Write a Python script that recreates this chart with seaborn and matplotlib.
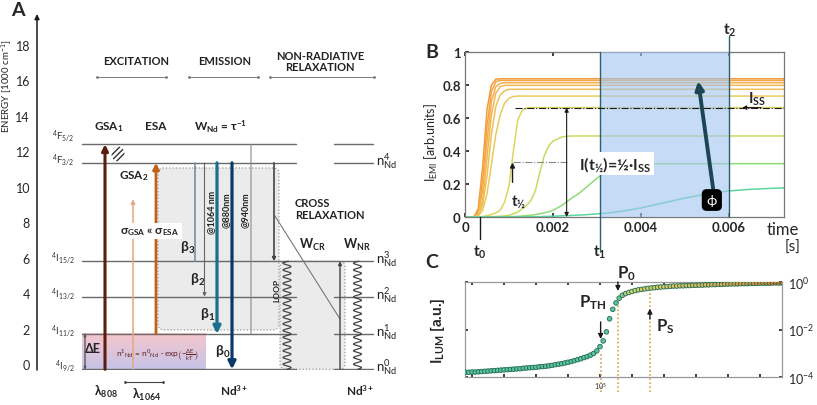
import numpy as np
import pandas as pd
import seaborn as sns
import matplotlib.pyplot as plt
from matplotlib.patches import FancyBboxPatch, Ellipse
from matplotlib.colors import LinearSegmentedColormap

sns.set_theme(style="white")
plt.rcParams['font.family'] = ['Lato', 'DejaVu Sans']
plt.rcParams['mathtext.fontset'] = 'custom'
plt.rcParams['mathtext.rm'] = 'Lato'
plt.rcParams['mathtext.it'] = 'Lato:italic'
plt.rcParams['mathtext.bf'] = 'Lato:bold'
plt.rcParams['mathtext.default'] = 'regular'

# ---------------- data ----------------
# panel A: Nd3+ energy levels [1000 cm-1]
level_names = ['$^4$I$_{9/2}$', '$^4$I$_{11/2}$', '$^4$I$_{13/2}$',
               '$^4$I$_{15/2}$', '$^4$F$_{3/2}$', '$^4$F$_{5/2}$']
level_energy = [-0.3, 1.7, 3.8, 5.8, 11.35, 12.4]
pop_names = ['n$^{0}_{Nd}$', 'n$^{1}_{Nd}$', 'n$^{2}_{Nd}$', 'n$^{3}_{Nd}$', 'n$^{4}_{Nd}$']
energy_ticks = [0, 2, 4, 6, 8, 10, 12, 14, 16, 18]

# panel B: emission rise curves, time in ms
t_ms = [0, 0.2, 0.3, 0.4, 0.5, 0.6, 0.7, 0.8, 0.9, 1.0, 1.1, 1.2, 1.3, 1.4, 1.5, 1.6, 1.7,
        1.8, 1.9, 2.0, 2.2, 2.4, 2.6, 2.8, 3.0, 3.3, 3.6, 4.0, 4.5, 5.0, 5.5, 6.0, 6.5, 7.0, 7.25]
c1 = [0, 0, 0.05, 0.30, 0.65, 0.80, 0.835] + [0.838] * 28
c2 = [0, 0, 0.03, 0.22, 0.55, 0.76, 0.82] + [0.828] * 28
c3 = [0, 0, 0.02, 0.16, 0.46, 0.70, 0.79, 0.81] + [0.814] * 27
c4 = [0, 0, 0.01, 0.10, 0.36, 0.62, 0.75, 0.79] + [0.798] * 27
c5 = [0, 0, 0.01, 0.07, 0.25, 0.50, 0.67, 0.74, 0.765] + [0.774] * 26
c6 = [0, 0, 0.005, 0.04, 0.14, 0.32, 0.50, 0.62, 0.69, 0.72, 0.73] + [0.733] * 24
c7 = [0, 0, 0.001, 0.003, 0.008, 0.015, 0.025, 0.04, 0.09, 0.19, 0.40, 0.59, 0.645, 0.66] + [0.663] * 21
c8 = [0, 0, 0, 0, 0.001, 0.002, 0.003, 0.005, 0.007, 0.01, 0.02, 0.03, 0.05, 0.07, 0.10,
      0.16, 0.27, 0.37, 0.43, 0.46, 0.485] + [0.491] * 14
c9 = [0, 0, 0, 0, 0, 0, 0, 0, 0.001, 0.002, 0.003, 0.004, 0.006, 0.008, 0.011, 0.015, 0.02,
      0.025, 0.032, 0.04, 0.07, 0.11, 0.145, 0.19, 0.235, 0.29, 0.315, 0.322] + [0.323] * 7
c10 = [0, 0, 0, 0, 0, 0, 0, 0, 0, 0, 0, 0, 0, 0.001, 0.001, 0.002, 0.002, 0.003, 0.004, 0.005,
       0.007, 0.009, 0.012, 0.015, 0.019, 0.026, 0.036, 0.055, 0.085, 0.115, 0.14, 0.158,
       0.168, 0.174, 0.176]
curves = [c1, c2, c3, c4, c5, c6, c7, c8, c9, c10]
curve_colors = ['#f29a3c', '#f3a443', '#f4ae4a', '#f2b652', '#efbf55',
                '#e9cb5a', '#dcd65e', '#c5dc62', '#8edb78', '#5ad6a0']
t_0, t_1, t_2 = 0.00034, 0.00307, 0.0060
I_ss = 0.663

# panel C: luminescence vs power (log10 values)
logP = [0.8, 0.9, 1.0, 1.1, 1.2, 1.3, 1.4, 1.5, 1.6, 1.7, 1.8, 1.9, 2.0, 2.1, 2.2, 2.3, 2.4,
        2.5, 2.6, 2.7, 2.8, 2.9, 3.0, 3.1, 3.2, 3.3, 3.4, 3.5, 3.6, 3.7, 3.8, 3.9, 4.0, 4.1,
        4.2, 4.3, 4.4, 4.5, 4.6, 4.7, 4.8, 4.9, 5.0, 5.1, 5.2, 5.3, 5.4, 5.5, 5.6, 5.7, 5.8,
        5.9, 6.0, 6.1, 6.2, 6.3, 6.4, 6.5, 6.6, 6.7, 6.8, 6.9, 7.0, 7.1, 7.2, 7.3, 7.4, 7.5,
        7.6, 7.7, 7.8, 7.9, 8.0, 8.1, 8.2, 8.3, 8.4, 8.5, 8.6, 8.7, 8.8, 8.9, 9.0, 9.1, 9.2,
        9.3, 9.4, 9.5, 9.6, 9.7, 9.8, 9.9, 10.0, 10.1, 10.2, 10.3, 10.4, 10.5, 10.6, 10.7]
logI = [-3.80, -3.80, -3.79, -3.79, -3.78, -3.77, -3.76, -3.75, -3.74, -3.73, -3.72, -3.71,
        -3.70, -3.69, -3.68, -3.67, -3.66, -3.65, -3.63, -3.62, -3.61, -3.60, -3.59, -3.57,
        -3.56, -3.55, -3.53, -3.51, -3.48, -3.46, -3.44, -3.41, -3.38, -3.35, -3.31, -3.27,
        -3.23, -3.18, -3.14, -3.08, -3.01, -2.90, -2.72, -2.48, -2.10, -1.55, -1.15, -0.88,
        -0.68, -0.56, -0.49, -0.44, -0.40, -0.36, -0.33, -0.31, -0.29, -0.27, -0.25, -0.24,
        -0.22, -0.21, -0.20, -0.19, -0.18, -0.17, -0.17, -0.16, -0.16, -0.15, -0.15, -0.14,
        -0.14, -0.13, -0.13, -0.12, -0.12, -0.11, -0.11, -0.10, -0.10, -0.09, -0.09, -0.08,
        -0.08, -0.08, -0.07, -0.07, -0.07, -0.06, -0.06, -0.06, -0.05, -0.05, -0.05, -0.05,
        -0.04, -0.04, -0.04, -0.04]

fig = plt.figure(figsize=(8.17, 4.06), dpi=100)

# ================= panel A =================
axA = fig.add_axes([37/817, 35/406, 383/817, 356/406])
for s in axA.spines.values():
    s.set_visible(False)
LC = '#6a6a6a'

# thermal population gradient
top_c = np.array([246, 198, 204]) / 255
bot_c = np.array([198, 196, 232]) / 255
w = np.linspace(0, 1, 40)[:, None]
grad = (top_c * (1 - w) + bot_c * w)[:, None, :]
axA.imshow(grad, extent=(82, 206, -0.3, 1.7), aspect='auto', zorder=1)

# grey boxes
box_kw = dict(boxstyle='round,pad=0,rounding_size=6', mutation_aspect=1/17.72,
              fc='#ebebeb', ec='#999999', ls=':', lw=0.9, zorder=1)
axA.add_patch(FancyBboxPatch((158, 1.92), 121, 9.14, **box_kw))
axA.add_patch(FancyBboxPatch((280, -0.3), 65, 6.1, **box_kw))

# energy levels
for i, (name, e) in enumerate(zip(level_names, level_energy)):
    if i == 3:
        axA.plot([82, 373], [e, e], color=LC, lw=1, zorder=2)
    else:
        axA.plot([82, 296], [e, e], color=LC, lw=1, zorder=2)
        axA.plot([334, 373], [e, e], color=LC, lw=1, zorder=2)
    dy = 0.5 if i == 5 else 0.2
    axA.text(75, e + dy, name, ha='right', va='center', fontsize=7, color='#333')
for e, name in zip(level_energy[:5], pop_names):
    axA.text(376, e + 0.15, name, ha='left', va='center', fontsize=9.5, color='#222')

def varrow(x, e0, e1, color, lw, head=True, ms=9):
    style = '-|>' if head else '-'
    axA.annotate('', xy=(x, e1), xytext=(x, e0),
                 arrowprops=dict(arrowstyle=style, color=color, lw=lw,
                                 mutation_scale=ms, shrinkA=0, shrinkB=0), zorder=4)

varrow(105, -0.3, 12.4, '#5a1e0e', 2.2)
varrow(133, -0.3, 9.3, '#e3a97c', 1.1, ms=6)
varrow(156, 1.7, 11.35, '#c0621a', 2.0)
varrow(195, 11.35, 5.8, '#7590a8', 1.2, head=False)
varrow(204.5, 11.35, 3.8, '#666666', 0.8, ms=5)
varrow(217, 11.35, 1.7, '#1b6e8e', 2.3, ms=11)
varrow(232, 11.35, -0.3, '#0a3a6a', 2.3, ms=11)
varrow(251, 12.4, 1.7, '#8a8a8a', 0.8, head=False)
varrow(274, 11.35, 5.8, '#444444', 1.2, ms=5)
varrow(340, -0.3, 5.8, '#444444', 1.0, ms=5)
varrow(85, -0.3, 1.7, '#555555', 0.6, ms=4)
varrow(85, 1.7, -0.3, '#555555', 0.6, ms=4)
axA.plot([275, 340], [8.35, 2.54], color='#777', lw=0.8, zorder=3)

# hatched absorption mark
axA.add_patch(Ellipse((118, 11.85), 13, 0.85, angle=0, fill=False, hatch='//////',
                      ec='#333', lw=0, zorder=3))

# non-radiative wavy lines
yy = np.linspace(-0.3, 5.8, 500)
for xc in (287, 357.5):
    axA.plot(xc + 4 * np.sin(2 * np.pi * (yy + 0.3) / 0.38), yy, color='#444', lw=0.9, zorder=3)

# headers
for label, xc, x0, x1 in [('EXCITATION', 136, 97, 166), ('EMISSION', 225, 189, 258),
                          ('NON-RADIATIVE\nRELAXATION', 320, 270, 374)]:
    axA.text(xc, 17.1, label, ha='center', va='center', fontsize=8, fontweight='bold',
             color='#222', linespacing=1.1)
    axA.plot([x0, x1], [16.2, 16.2], color='#777', lw=0.7, marker='.', markersize=2)

bold = dict(fontweight='bold', color='#222', ha='center', va='center')
axA.text(109, 13.43, 'GSA$_1$', fontsize=8.5, **bold)
axA.text(156, 13.43, 'ESA', fontsize=8.5, **bold)
axA.text(221, 13.43, 'W$_{Nd}$ = τ$^{-1}$', fontsize=8.5, **bold)
axA.text(134, 10.67, 'GSA$_2$', fontsize=8.5, **bold)
axA.text(150, 7.5, 'σ$_{GSA}$ « σ$_{ESA}$', fontsize=8.5, zorder=6,
         bbox=dict(fc='white', ec='none', pad=1.5), **bold)
axA.text(188, 6.6, 'β$_3$', fontsize=10, **bold)
axA.text(198, 4.8, 'β$_2$', fontsize=10, **bold)
axA.text(208, 2.82, 'β$_1$', fontsize=10, **bold)
axA.text(223, 0.73, 'β$_0$', fontsize=10, **bold)
axA.text(212, 8.63, '@1064 nm', fontsize=6.5, rotation=90, **bold)
axA.text(226.5, 8.75, '@880nm', fontsize=6.5, rotation=90, **bold)
axA.text(245, 8.75, '@940nm', fontsize=6.5, rotation=90, **bold)
axA.text(295, 8.78, 'CROSS\nRELAXATION', fontsize=8, fontweight='bold', color='#222',
         ha='left', va='center', linespacing=1.15)
axA.text(312, 6.77, 'W$_{CR}$', fontsize=9, **bold)
axA.text(357, 6.77, 'W$_{NR}$', fontsize=9, **bold)
axA.text(277, 4.23, 'LOOP', fontsize=6, rotation=90, **bold)
axA.text(93, 0.9, 'ΔE', fontsize=9, **bold)
axA.text(157, 0.56, r'n$^1$$_{Nd}$ = n$^0$$_{Nd}$ · exp$\left(-\frac{ΔE}{kT}\right)$',
         fontsize=6, color='#5a2020', ha='center', va='center', zorder=5)
axA.text(106, -1.52, 'λ$_{808}$', fontsize=9, **bold)
axA.text(147, -1.69, 'λ$_{1064}$', fontsize=9, **bold)
axA.plot([125, 163], [-1.02, -1.02], color='#444', lw=0.8, marker='.', markersize=2, clip_on=False)
axA.text(234, -1.47, 'Nd$^{3+}$', fontsize=8.5, **bold)
axA.text(360, -1.47, 'Nd$^{3+}$', fontsize=8.5, **bold)

axA.set_xlim(37, 420)
axA.set_ylim(-0.34, 19.75)
axA.set_xticks([])
axA.set_yticks(energy_ticks)
axA.tick_params(axis='y', length=0, pad=5, labelsize=9, left=False)
axA.annotate('', xy=(0, 1), xytext=(0, 0), xycoords='axes fraction',
             arrowprops=dict(arrowstyle='-|>', color='k', lw=1.1, mutation_scale=7,
                             shrinkA=0, shrinkB=0))
axA.text(-0.078, 0.80, 'ENERGY [1000 cm$^{-1}$]', transform=axA.transAxes, rotation=90,
         ha='center', va='center', fontsize=7, color='#222')

# ================= panel B =================
axB = fig.add_axes([465/817, 188/406, 319/817, 165/406])
df_b = pd.DataFrame({
    't': np.tile(np.array(t_ms) / 1000, len(curves)),
    'I': np.concatenate(curves),
    'curve': np.repeat(['c%d' % i for i in range(len(curves))], len(t_ms)),
})
sns.lineplot(data=df_b, x='t', y='I', hue='curve', hue_order=['c%d' % i for i in range(len(curves))],
             palette=curve_colors, legend=False, ax=axB, lw=1.1, zorder=2)
axB.axvspan(t_1, t_2, color='#a3c6f0', alpha=0.62, lw=0, zorder=3)
xfB = axB.get_xaxis_transform()
axB.plot([t_1, t_1], [-0.2, 1], transform=xfB, color='#2c5e6e', lw=1, clip_on=False, zorder=4)
axB.plot([t_2, t_2], [0, 1.1], transform=xfB, color='#2c5e6e', lw=1, clip_on=False, zorder=4)
axB.plot([t_0, t_0], [-0.135, 0], transform=xfB, color='k', lw=1, clip_on=False, zorder=4)
for tx, lab, yf in [(t_0, 't$_0$', -0.21), (t_1, 't$_1$', -0.21), (t_2 + 0.00002, 't$_2$', 1.14)]:
    axB.text(tx, yf, lab, transform=xfB, ha='center', va='center', fontsize=11, fontweight='bold')
axB.text(0.00723, -0.075, 'time', transform=xfB, ha='center', va='center', fontsize=12)
axB.text(0.00745, -0.18, '[s]', transform=xfB, ha='center', va='center', fontsize=11)

axB.plot([0.00114, 0.00725], [I_ss, I_ss], color='k', ls='-.', lw=0.8, zorder=5)
axB.plot([0.00109, 0.00231], [I_ss / 2, I_ss / 2], color='#888', ls='-.', lw=0.8, zorder=5)
axB.annotate('', xy=(0.00231, I_ss), xytext=(0.00231, 0),
             arrowprops=dict(arrowstyle='<|-|>', color='k', lw=0.8, mutation_scale=6,
                             shrinkA=0, shrinkB=0), zorder=5)
axB.annotate('', xy=(0.00108, 0.33), xytext=(0.00108, 0.21),
             arrowprops=dict(arrowstyle='-|>', color='k', lw=1, mutation_scale=7,
                             shrinkA=0, shrinkB=0), zorder=5)
axB.text(0.00123, 0.10, 't$_{½}$', fontsize=11, fontweight='bold', ha='center', va='center')
axB.text(0.00342, 0.325, 'I(t$_{½}$)=½·I$_{SS}$', fontsize=11.5, fontweight='bold',
         ha='center', va='center', zorder=6, bbox=dict(fc='white', ec='none', pad=1.5))
axB.text(0.00663, 0.72, 'I$_{SS}$', fontsize=11, fontweight='bold', ha='center', va='center', zorder=6)
axB.annotate('', xy=(0.00630, I_ss), xytext=(0.00673, I_ss),
             arrowprops=dict(arrowstyle='-|>', color='k', lw=0.8, mutation_scale=6,
                             shrinkA=0, shrinkB=0), zorder=6)
axB.annotate('', xy=(0.00530, 0.824), xytext=(0.00564, 0.17),
             arrowprops=dict(arrowstyle='-|>', color='#1c4654', lw=2.8, mutation_scale=12,
                             shrinkA=0, shrinkB=0), zorder=6)
axB.text(0.00561, 0.103, 'ϕ', color='white', fontsize=10, ha='center', va='center', zorder=7,
         bbox=dict(boxstyle='round,pad=0.3', fc='black', ec='black'))

axB.set_xlim(0, 0.00725)
axB.set_ylim(0, 1)
axB.set_xticks([0, 0.002, 0.004, 0.006])
axB.set_xticklabels(['0', '0.002', '0.004', '0.006'])
axB.set_yticks([0, 0.2, 0.4, 0.6, 0.8, 1])
axB.set_yticklabels(['0', '0.2', '0.4', '0.6', '0.8', '1'])
axB.tick_params(direction='in', length=3, labelsize=9.5, bottom=True, left=True, top=True, pad=3)
for lbl in axB.get_xticklabels() + axB.get_yticklabels():
    lbl.set_fontweight('bold')
axB.set_xlabel('')
axB.set_ylabel('')
axB.text(-0.105, 0.46, 'I$_{EMI}$ [arb.units]', transform=axB.transAxes, rotation=90,
         ha='center', va='center', fontsize=9)
for s in axB.spines.values():
    s.set_color('#777')
    s.set_linewidth(0.9)

# ================= panel C =================
axC = fig.add_axes([465/817, 28/406, 317/817, 95/406])
df_c = pd.DataFrame({'P': 10 ** np.array(logP), 'I': 10 ** np.array(logI), 'logP': logP})
cmapC = LinearSegmentedColormap.from_list(
    'lum', [(0, '#5cc39c'), (0.48, '#5cc39c'), (0.52, '#d8d470'), (0.78, '#dcb45a'), (1, '#c07428')])
sns.scatterplot(data=df_c, x='P', y='I', hue='logP', palette=cmapC, hue_norm=(0.8, 10.7),
                legend=False, s=11, edgecolor='#1f6a52', linewidth=0.6, ax=axC, zorder=3)
axC.set_xscale('log')
axC.set_yscale('log')
axC.set_xlim(10 ** 0.78, 10 ** 10.69)
axC.set_ylim(1e-4, 1)
xfC = axC.get_xaxis_transform()
for lp, top in [(5.04, 0.25), (5.56, 0.84), (6.56, 0.905)]:
    axC.plot([10 ** lp, 10 ** lp], [-0.16, top], transform=xfC, color='#e08a2c', ls=':', lw=1.1,
             clip_on=False, zorder=2)
for lp, y0, y1 in [(5.02, 0.58, 0.40), (5.56, 1.0, 0.905), (6.56, 0.61, 0.72)]:
    axC.annotate('', xy=(10 ** lp, y1), xytext=(10 ** lp, y0), xycoords=xfC, textcoords=xfC,
                 arrowprops=dict(arrowstyle='-|>', color='k', lw=1, mutation_scale=7,
                                 shrinkA=0, shrinkB=0), zorder=5)
axC.text(10 ** 4.78, 0.79, 'P$_{TH}$', transform=xfC, fontsize=12, fontweight='bold', ha='center', va='center')
axC.text(10 ** 5.84, 1.1, 'P$_0$', transform=xfC, fontsize=12, fontweight='bold', ha='center', va='center')
axC.text(10 ** 7.03, 0.54, 'P$_S$', transform=xfC, fontsize=12, fontweight='bold', ha='center', va='center')

axC.set_xticks([10.0 ** k for k in range(1, 11)])
axC.set_xticklabels(['$10^5$' if k == 5 else '' for k in range(1, 11)], fontsize=5)
axC.xaxis.set_minor_locator(plt.NullLocator())
axC.yaxis.set_minor_locator(plt.NullLocator())
axC.yaxis.tick_right()
axC.set_yticks([1e-4, 1e-2, 1])
axC.set_yticklabels(['$10^{-4}$', '$10^{-2}$', '$10^{0}$'], fontsize=9)
axC.tick_params(direction='in', length=2, bottom=True, top=True, left=True, right=True,
                labelleft=False, labelright=True, pad=2)
axC.tick_params(axis='y', pad=4)
axC.set_xlabel('')
axC.set_ylabel('')
axC.text(-0.088, 0.5, 'I$_{LUM}$ [a.u.]', transform=axC.transAxes, rotation=90,
         ha='center', va='center', fontsize=11, fontweight='bold')
for s in axC.spines.values():
    s.set_color('#999')
    s.set_linewidth(0.9)

# panel letters
fig.text(18/817, 1 - 11/406, 'A', fontsize=14, fontweight='bold', ha='center', va='center')
fig.text(432/817, 1 - 53/406, 'B', fontsize=14, fontweight='bold', ha='center', va='center')
fig.text(432/817, 1 - 262/406, 'C', fontsize=14, fontweight='bold', ha='center', va='center')

fig.savefig('out.png', dpi=100)
